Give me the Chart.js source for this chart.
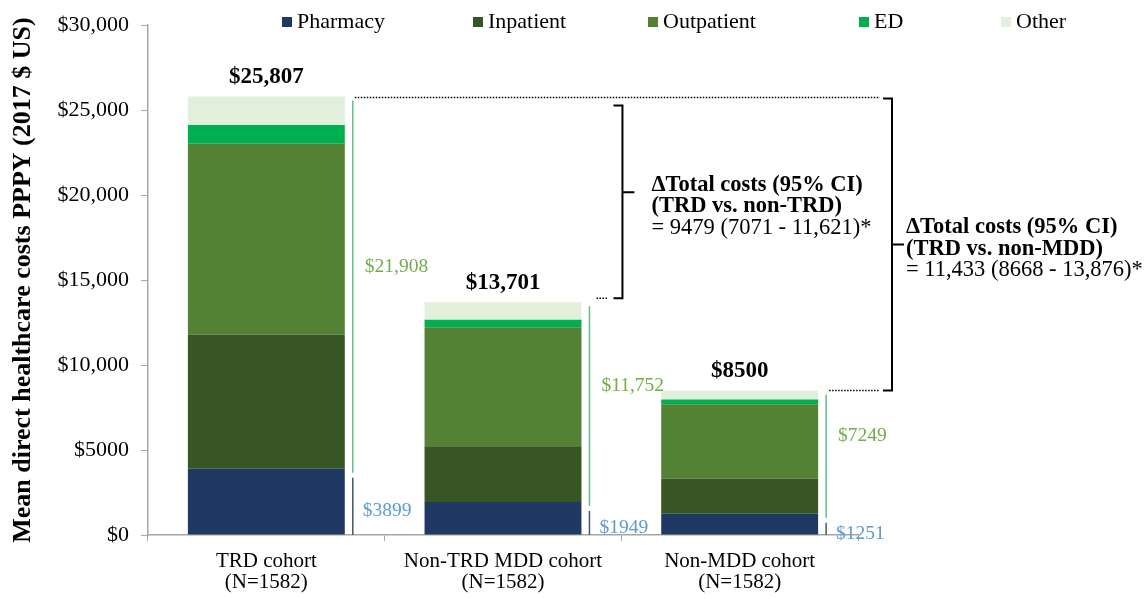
<!DOCTYPE html>
<html>
<head>
<meta charset="utf-8">
<script src="https://cdn.jsdelivr.net/npm/chart.js@4.4.1/dist/chart.umd.min.js"></script>
<style>
  html, body { margin: 0; padding: 0; background: #fff; }
  #wrap { width: 1145px; height: 599px; }
</style>
</head>
<body>
<div id="wrap"><canvas id="chart" width="1145" height="599"></canvas></div>
<script>
// cohorts
var categories = [['TRD cohort', '(N=1582)'], ['Non-TRD MDD cohort', '(N=1582)'], ['Non-MDD cohort', '(N=1582)']];

// cost components, mean $ PPPY
var pharmacy   = [3899, 1949, 1251];
var inpatient  = [7886, 3277, 2055];
var outpatient = [11233, 7006, 4386];
var ed         = [1116, 434, 276];
var other      = [1673, 1035, 532];

var totals  = [25807, 13701, 8500];
var medical = [21908, 11752, 7249];

var yTicks = [0, 5000, 10000, 15000, 20000, 25000, 30000];

var diffVsNonTrd = ['\u0394Total costs (95% CI)', '(TRD vs. non-TRD)', '= 9479 (7071 - 11,621)*'];
var diffVsNonMdd = ['\u0394Total costs (95% CI)', '(TRD vs. non-MDD)', '= 11,433 (8668 - 13,876)*'];

var FONT = '"Liberation Serif", "Times New Roman", serif';
var colors = ['#203864', '#375623', '#548235', '#00B050', '#E2EFDA'];

function money(v) {
    if (v >= 10000) return '$' + v.toLocaleString('en-US');
    return '$' + v;
}

var annotations = {
    id: 'annotations',
    afterDraw: function (chart) {
        var ctx = chart.ctx;
        var y = chart.scales.y;
        var area = chart.chartArea;
        var bars = chart.getDatasetMeta(0).data;
        ctx.save();

        // legend (columns like the excel original)
        var legendX = [282, 473, 648, 859, 1001];
        ctx.font = '22px ' + FONT;
        ctx.textBaseline = 'middle';
        ctx.textAlign = 'left';
        chart.data.datasets.forEach(function (ds, i) {
            ctx.fillStyle = ds.backgroundColor;
            ctx.fillRect(legendX[i], 17, 10, 10);
            ctx.fillStyle = '#000';
            ctx.fillText(ds.label, legendX[i] + 15, 22);
        });

        var lineX = [];
        bars.forEach(function (bar, i) {
            var right = bar.x + bar.width / 2;
            var gx = right + 8;
            lineX.push(gx);
            var yTop = y.getPixelForValue(totals[i]);
            var yPh = y.getPixelForValue(pharmacy[i]);
            var y0 = y.getPixelForValue(0);

            // total label
            ctx.fillStyle = '#000';
            ctx.font = 'bold 23px ' + FONT;
            ctx.textAlign = 'center';
            ctx.fillText(money(totals[i]), bar.x, yTop - 19);

            // medical costs line
            ctx.strokeStyle = '#5CC08A';
            ctx.lineWidth = 1.5;
            ctx.beginPath();
            ctx.moveTo(gx, yTop + 4);
            ctx.lineTo(gx, yPh + 4);
            ctx.stroke();
            ctx.fillStyle = '#70AD47';
            ctx.font = '19.5px ' + FONT;
            ctx.textAlign = 'left';
            ctx.fillText(money(medical[i]), gx + 12, (yTop + yPh) / 2 - 16);

            // pharmacy line
            ctx.strokeStyle = '#44546A';
            ctx.beginPath();
            ctx.moveTo(gx, yPh + 9);
            ctx.lineTo(gx, y0);
            ctx.stroke();
            ctx.fillStyle = '#5B9BD5';
            ctx.fillText(money(pharmacy[i]), gx + 10, (yPh + 9 + y0) / 2 + 5);
        });

        var t0 = y.getPixelForValue(totals[0]);
        var t1 = y.getPixelForValue(totals[1]);
        var t2 = y.getPixelForValue(totals[2]);
        var bigX = area.right + 34;
        var smallX = bars[1].x + bars[1].width / 2 + 41;

        // dotted guides
        ctx.strokeStyle = '#000';
        ctx.lineWidth = 1.5;
        ctx.setLineDash([1.5, 1.5]);
        ctx.beginPath();
        ctx.moveTo(lineX[0] + 2, t0 + 1);
        ctx.lineTo(bigX - 12, t0 + 1);
        ctx.moveTo(lineX[2] + 3, t2);
        ctx.lineTo(bigX - 12, t2);
        ctx.moveTo(lineX[1] + 7, t1 - 4);
        ctx.lineTo(smallX - 15, t1 - 4);
        ctx.stroke();
        ctx.setLineDash([]);

        // brackets
        ctx.lineWidth = 2;
        function bracket(x, top, bottom, tickY, text, tx) {
            var mid = (top + bottom) / 2;
            ctx.beginPath();
            ctx.moveTo(x - 9, top);
            ctx.lineTo(x, top);
            ctx.lineTo(x, bottom);
            ctx.lineTo(x - 9, bottom);
            ctx.moveTo(x, tickY);
            ctx.lineTo(x + 12, tickY);
            ctx.stroke();
            ctx.fillStyle = '#000';
            ctx.textAlign = 'left';
            text.forEach(function (line, k) {
                ctx.font = (k < 2 ? 'bold ' : '') + '22.5px ' + FONT;
                ctx.fillText(line, tx, mid - 17 + k * 21.5);
            });
        }
        var sTop = t0 + 9, sBot = t1 - 4;
        bracket(smallX, sTop, sBot, sTop + (sBot - sTop) * 0.45, diffVsNonTrd, smallX + 29);
        bracket(bigX, t0 + 2, t2, (t0 + 2 + t2) / 2, diffVsNonMdd, bigX + 14);

        ctx.restore();
    }
};

var names = ['Pharmacy', 'Inpatient', 'Outpatient', 'ED', 'Other'];
var series = [pharmacy, inpatient, outpatient, ed, other];

new Chart(document.getElementById('chart'), {
    type: 'bar',
    data: {
        labels: categories,
        datasets: series.map(function (s, i) {
            return {
                label: names[i],
                data: s,
                backgroundColor: colors[i],
                borderWidth: 0,
                categoryPercentage: 1,
                barPercentage: 0.663
            };
        })
    },
    options: {
        responsive: false,
        animation: false,
        layout: { padding: { top: 24, right: 287, left: 0, bottom: 0 } },
        plugins: {
            legend: { display: false },
            tooltip: { enabled: false }
        },
        scales: {
            x: {
                stacked: true,
                grid: { display: true, drawOnChartArea: false, tickLength: 6, color: '#A6A6A6', offset: true },
                border: { color: '#A6A6A6', width: 1.5 },
                ticks: { color: '#000', font: { family: FONT, size: 21, lineHeight: 1.0 }, padding: 10, maxRotation: 0 },
                afterFit: function (scale) { scale.height = 64; }
            },
            y: {
                stacked: true,
                min: 0,
                max: 30000,
                afterBuildTicks: function (scale) {
                    scale.ticks = yTicks.map(function (v) { return { value: v }; });
                },
                grid: { display: true, drawOnChartArea: false, tickLength: 7, color: '#A6A6A6' },
                border: { color: '#A6A6A6', width: 1.5 },
                ticks: {
                    color: '#000',
                    padding: 12,
                    font: { family: FONT, size: 22 },
                    callback: function (v) { return money(v); }
                },
                title: {
                    display: true,
                    text: 'Mean direct healthcare costs PPPY (2017 $ US)',
                    color: '#000',
                    font: { family: FONT, size: 26, weight: 'bold' },
                    padding: { top: 8, bottom: 0 }
                },
                afterFit: function (scale) { scale.width = 148; }
            }
        }
    },
    plugins: [annotations]
});
</script>
</body>
</html>
